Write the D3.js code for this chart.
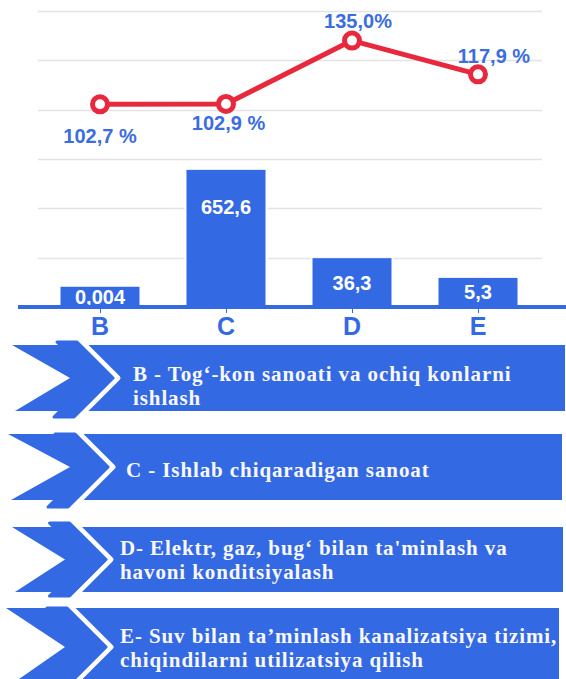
<!DOCTYPE html>
<html><head><meta charset="utf-8">
<script src="https://cdn.jsdelivr.net/npm/d3@7"></script>
<style>html,body{margin:0;padding:0;background:#fff;} svg{display:block}</style>
</head><body>
<script>
// ---- data ----
const categories = ["B", "C", "D", "E"];
const growthValues = [102.7, 102.9, 135.0, 117.9];
const growthLabels = ["102,7 %", "102,9 %", "135,0%", "117,9 %"];
const volumeLabels = ["0,004", "652,6", "36,3", "5,3"];
// plotted bar heights as drawn in the picture (grid units; the chart is not to scale)
const volumeBarHeights = [0.41, 2.78, 0.99, 0.59];
const gridTicks = [1, 2, 3, 4, 5, 6];
const legendTexts = [
  ["B - Tog‘-kon sanoati va ochiq konlarni", "ishlash"],
  ["C - Ishlab chiqaradigan sanoat"],
  ["D- Elektr, gaz, bug‘ bilan ta'minlash va", "havoni konditsiyalash"],
  ["E- Suv bilan ta’minlash kanalizatsiya tizimi,", "chiqindilarni utilizatsiya qilish"]
];

// ---- layout / style ----
const W = 566, H = 679;
const BLUE = "#3469e4", LABEL_BLUE = "#3b6de0", RED = "#e8283c";
const labelOffsets = [{dx: 0, dy: 39}, {dx: 2.5, dy: 26}, {dx: 6, dy: -12.5}, {dx: 16, dy: -11}];
const bannerLayout = [
  {top: 345, bottom: 411, left: 12, right: 565, notch: 70, apex: 113, pt: 3, pb: 6, textX: 133, base: 381},
  {top: 434, bottom: 500, left: 8, right: 562, notch: 70, apex: 108, pt: 0, pb: 7, textX: 126, base: 477},
  {top: 527, bottom: 592, left: 12, right: 563, notch: 65, apex: 106, pt: 4, pb: 4, textX: 120, base: 555},
  {top: 608, bottom: 686, left: 6, right: 559, notch: 65, apex: 106, pt: 0, pb: 0, textX: 120, base: 643}
];

const svg = d3.select("body").append("svg").attr("width", W).attr("height", H);

const x = d3.scaleBand().domain(categories).range([37, 541]).paddingInner(0.373).paddingOuter(0.1865);
const cx = c => x(c) + x.bandwidth() / 2;
const yBar = d3.scaleLinear().domain([0, 6]).range([307, 11]);
const yLine = d3.scaleLinear().domain([0, 150]).range([307, 11]);

// gridlines
svg.append("g").selectAll("line").data(gridTicks).join("line")
  .attr("x1", 38).attr("x2", 542)
  .attr("y1", d => Math.round(yBar(d)) + 0.5).attr("y2", d => Math.round(yBar(d)) + 0.5)
  .attr("stroke", "#e4e4e4").attr("stroke-width", 1.4);

// bars
const bars = categories.map((c, i) => ({c, h: volumeBarHeights[i], label: volumeLabels[i]}));
svg.append("g").selectAll("rect").data(bars).join("rect")
  .attr("x", d => x(d.c) - 2).attr("width", x.bandwidth() + 4)
  .attr("y", d => yBar(d.h)).attr("height", d => yBar(0) - yBar(d.h))
  .attr("fill", "#fff");
svg.append("g").selectAll("rect").data(bars).join("rect")
  .attr("x", d => x(d.c)).attr("width", x.bandwidth())
  .attr("y", d => yBar(d.h)).attr("height", d => yBar(0) - yBar(d.h))
  .attr("fill", BLUE);
svg.append("g").selectAll("text").data(bars).join("text")
  .attr("x", d => cx(d.c))
  .attr("y", d => {
    const top = yBar(d.h), mid = (top + yBar(0)) / 2;
    return Math.min(mid, top + 37) + 7;
  })
  .attr("text-anchor", "middle")
  .attr("font-family", "Liberation Sans, Arial, sans-serif").attr("font-weight", "bold")
  .attr("font-size", 20).attr("fill", "#fff")
  .text(d => d.label);

// axis
svg.append("line").attr("x1", 18).attr("x2", 566).attr("y1", yBar(0)).attr("y2", yBar(0))
  .attr("stroke", BLUE).attr("stroke-width", 4);
svg.append("g").selectAll("line").data(categories).join("line")
  .attr("x1", d => cx(d) + 0.5).attr("x2", d => cx(d) + 0.5)
  .attr("y1", yBar(0) + 2).attr("y2", yBar(0) + 6)
  .attr("stroke", BLUE).attr("stroke-width", 1);
svg.append("g").selectAll("text").data(categories).join("text")
  .attr("x", d => cx(d)).attr("y", 335)
  .attr("text-anchor", "middle")
  .attr("font-family", "Liberation Sans, Arial, sans-serif").attr("font-weight", "bold")
  .attr("font-size", 25).attr("fill", BLUE)
  .text(d => d);

// line
const pts = categories.map((c, i) => ({c, v: growthValues[i], label: growthLabels[i], off: labelOffsets[i]}));
svg.append("path").datum(pts)
  .attr("d", d3.line().x(d => cx(d.c)).y(d => yLine(d.v)))
  .attr("fill", "none").attr("stroke", RED).attr("stroke-width", 5).attr("stroke-linejoin", "round");
svg.append("g").selectAll("circle").data(pts).join("circle")
  .attr("cx", d => cx(d.c)).attr("cy", d => yLine(d.v)).attr("r", 7.5)
  .attr("fill", "#fff").attr("stroke", RED).attr("stroke-width", 5);
svg.append("g").selectAll("text").data(pts).join("text")
  .attr("x", d => cx(d.c) + d.off.dx).attr("y", d => yLine(d.v) + d.off.dy)
  .attr("text-anchor", "middle")
  .attr("font-family", "Liberation Sans, Arial, sans-serif").attr("font-weight", "bold")
  .attr("font-size", 20).attr("fill", LABEL_BLUE)
  .text(d => d.label);

// legend banners
const lg = svg.append("g");
legendTexts.forEach((lines, i) => {
  const L = bannerLayout[i];
  const t = L.top, b = L.bottom, m = (t + b) / 2, A = L.apex, w = 20;
  const g = lg.append("g");
  g.append("polygon")
    .attr("points", [[L.left, t], [L.right, t], [L.right, b], [L.left + 3, b], [L.notch, m]].join(" "))
    .attr("fill", BLUE);
  const up = m - t + L.pt, dn = b + L.pb - m;
  g.append("polyline")
    .attr("points", [[A + 5 - up - 2, t - L.pt - 2], [A + 5, m], [A + 5 - dn - 2, b + L.pb + 2]].join(" "))
    .attr("fill", "none").attr("stroke", "#fff").attr("stroke-width", 5).attr("stroke-linejoin", "round");
  g.append("polygon")
    .attr("points", [[A - up, t - L.pt], [A, m], [A - dn, b + L.pb], [A - w - dn, b + L.pb], [A - w, m], [A - w - up, t - L.pt]].join(" "))
    .attr("fill", BLUE).attr("stroke", BLUE).attr("stroke-width", 3).attr("stroke-linejoin", "round");
  g.append("text")
    .attr("font-family", "Liberation Serif, 'Times New Roman', serif").attr("font-weight", "bold")
    .attr("font-size", 21).attr("letter-spacing", 0.9).attr("fill", "#f8f8ff")
    .selectAll("tspan").data(lines).join("tspan")
    .attr("x", L.textX).attr("y", (d, j) => L.base + j * 24)
    .text(d => d);
});
</script>
</body></html>
